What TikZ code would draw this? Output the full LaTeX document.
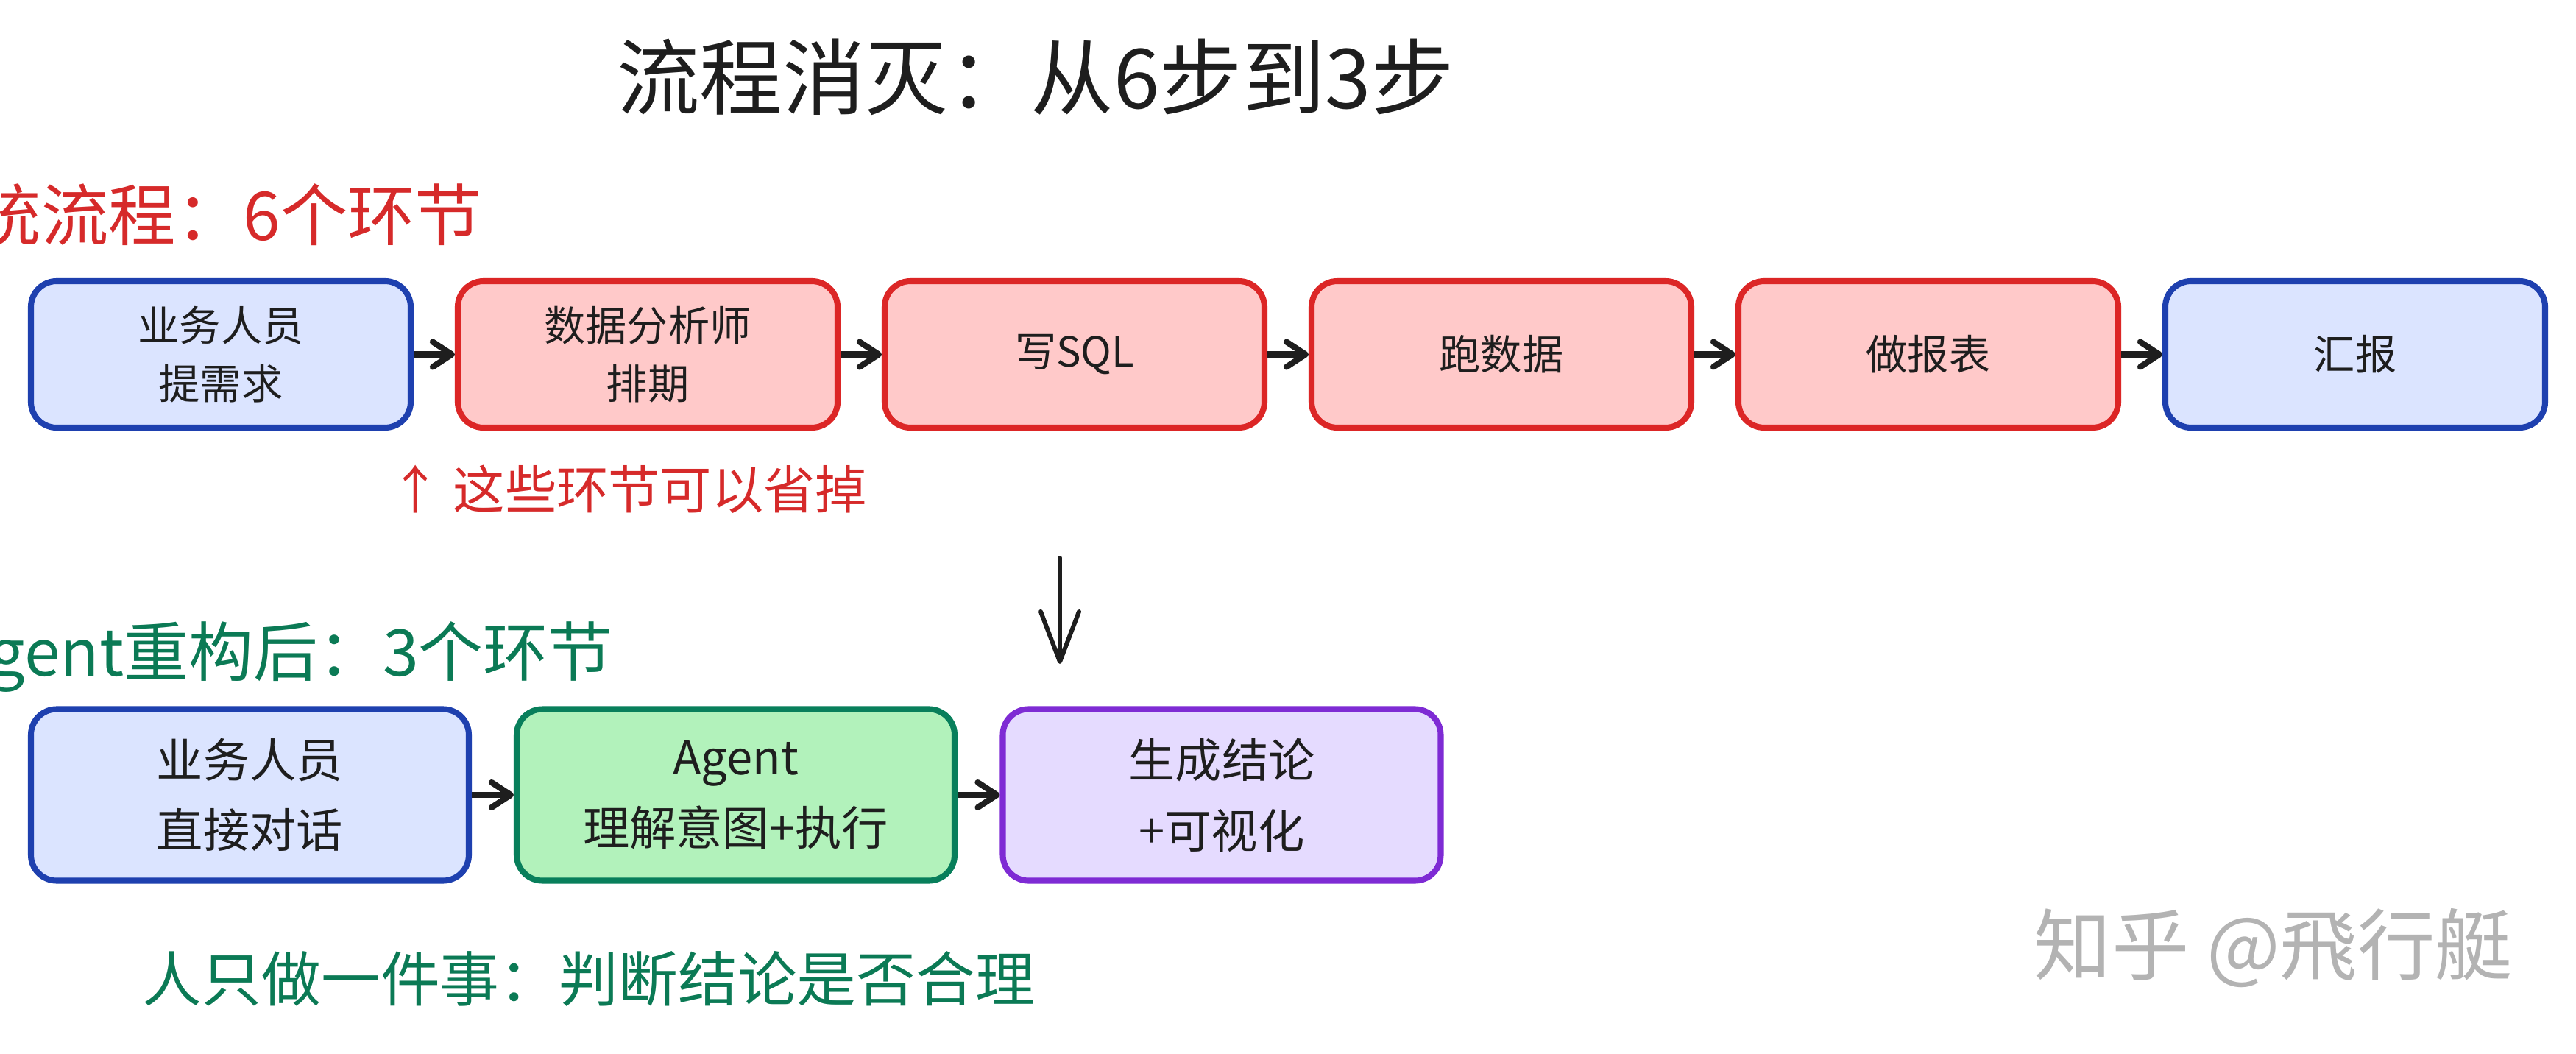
\documentclass[tikz,border=0pt]{standalone}
\usepackage{fontspec}
\setmainfont{Noto Sans CJK SC}
\usetikzlibrary{arrows.meta}
\definecolor{ink}{HTML}{1E1E1E}
\definecolor{blueline}{HTML}{1E40AF}
\definecolor{bluefill}{HTML}{DBE4FF}
\definecolor{redline}{HTML}{DC2626}
\definecolor{redfill}{HTML}{FFC9C9}
\definecolor{greenline}{HTML}{087F5B}
\definecolor{greenfill}{HTML}{B2F2BB}
\definecolor{violetline}{HTML}{7E2BD4}
\definecolor{violetfill}{HTML}{E5DBFF}
\definecolor{greentext}{HTML}{0B7A55}
\definecolor{redtext}{HTML}{D62A2A}
\definecolor{wmgray}{HTML}{B3B3B3}
\newcommand{\fsz}[2]{\fontsize{#1}{#2}\selectfont}

\begin{document}
\begin{tikzpicture}[
  proc/.style={draw, line width=2.3pt, rounded corners=0.35cm, align=center, text=ink, inner sep=0pt},
  oldbox/.style={proc, minimum width=5.16cm, minimum height=1.99cm, font=\fsz{16}{22.5}},
  newbox/.style={proc, minimum width=5.95cm, minimum height=2.33cm, font=\fsz{18}{27.3}},
  human/.style={draw=blueline, fill=bluefill},
  manual/.style={draw=redline, fill=redfill},
  agentic/.style={draw=greenline, fill=greenfill},
  result/.style={draw=violetline, fill=violetfill},
  flow/.style={ink, line width=2.3pt, -{Straight Barb[length=2.6mm,width=3.4mm,round]}},
  caption/.style={inner sep=0pt}
]
% Page size and white background
\useasboundingbox (0,0) rectangle (35,-14.32);
\fill[white] (0,0) rectangle (35,-14.32);
\clip (0,0) rectangle (35,-14.32);
% Title
\node[caption, font=\fsz{32}{38}, text=ink] (title) at (14.07,-1.05) {流程消灭：从6步到3步};
% Old process: 6 steps
\node[caption, font=\fsz{26}{31}, text=redtext, anchor=east] (oldlabel) at (6.56,-2.92) {传统流程：6个环节};
\node[oldbox, human] (ask) at (3.0,-4.815) {业务人员\\提需求};
\node[oldbox, manual] (queue) at (8.8,-4.815) {数据分析师\\排期};
\node[oldbox, manual] (sql) at (14.6,-4.815) {写SQL};
\node[oldbox, manual] (run) at (20.4,-4.815) {跑数据};
\node[oldbox, manual] (report) at (26.2,-4.815) {做报表};
\node[oldbox, human] (present) at (32.0,-4.815) {汇报};
\draw[flow] (ask) -- (queue);
\draw[flow] (queue) -- (sql);
\draw[flow] (sql) -- (run);
\draw[flow] (run) -- (report);
\draw[flow] (report) -- (present);
\node[caption, font=\fsz{20}{24}, text=redtext, anchor=west] (skip) at (5.29,-6.65) {↑ 这些环节可以省掉};
% Transition arrow
\coordinate (dropstart) at (14.4,-7.58);
\coordinate (dropend) at (14.4,-9.02);
\draw[ink, line width=1.7pt, line cap=round, -{Straight Barb[length=6.8mm,width=5.2mm,round]}] (dropstart) -- (dropend);
% New process: 3 steps
\node[caption, font=\fsz{25}{30}, text=greentext, anchor=east] (newlabel) at (8.33,-8.93) {Agent重构后：3个环节};
\node[newbox, human] (talk) at (3.395,-10.8) {业务人员\\直接对话};
\node[newbox, agentic] (agent) at (9.995,-10.8) {Agent\\理解意图+执行};
\node[newbox, result] (conclude) at (16.6,-10.8) {生成结论\\+可视化};
\draw[flow] (talk) -- (agent);
\draw[flow] (agent) -- (conclude);
\node[caption, font=\fsz{23}{28}, text=greentext] (judge) at (8.0,-13.3) {人只做一件事：判断结论是否合理};
% Watermark
\node[caption, font=\fsz{30}{36}, text=wmgray] (zhihu) at (30.89,-12.88) {知乎 @飛行艇};
\end{tikzpicture}
\end{document}
